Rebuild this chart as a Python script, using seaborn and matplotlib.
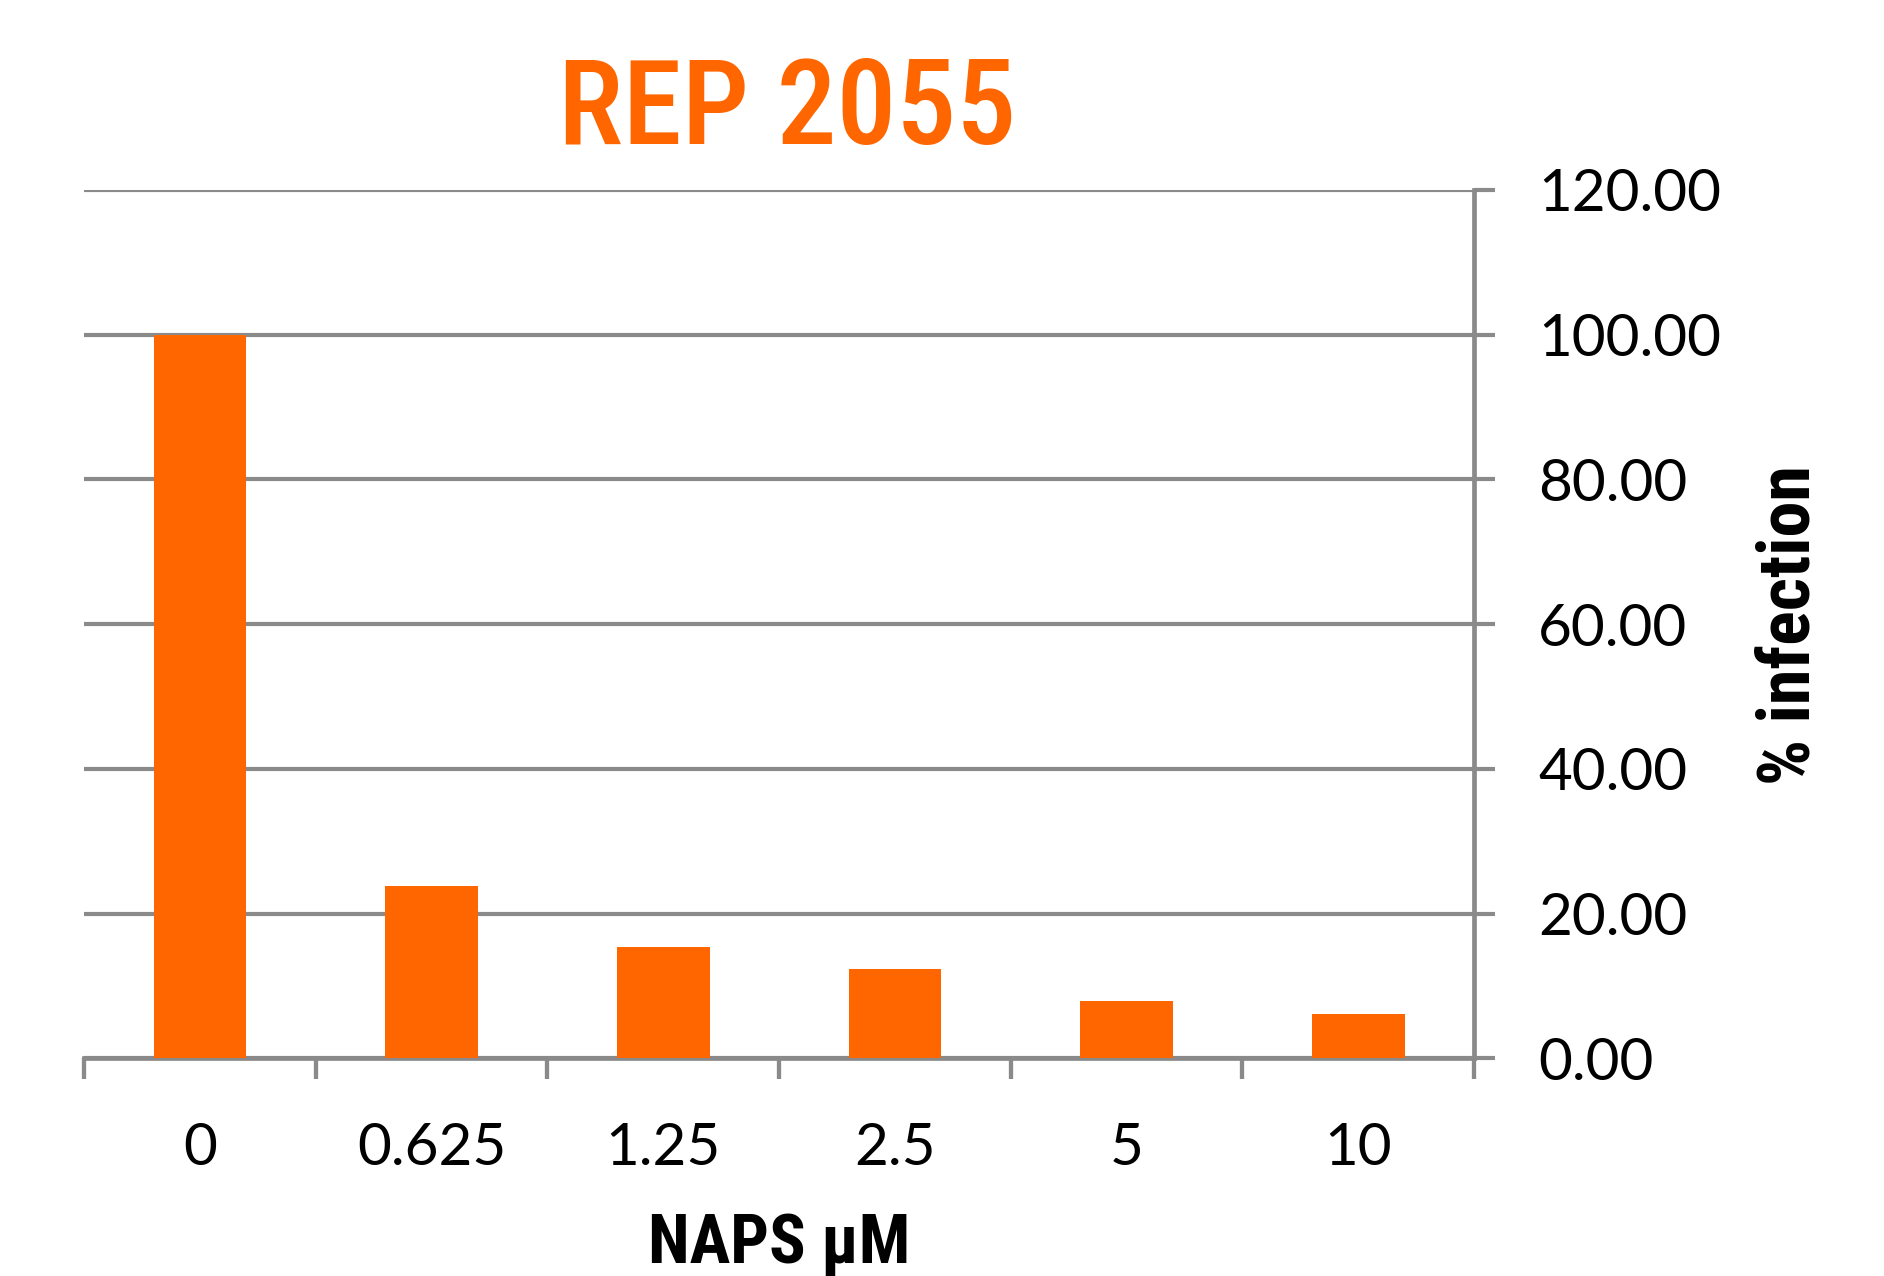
import matplotlib
matplotlib.use("Agg")
import matplotlib.pyplot as plt
import seaborn as sns
import pandas as pd
from matplotlib.ticker import FixedLocator, FormatStrFormatter

# NAPS concentration (µM) and resulting % infection
concentrations = ["0", "0.625", "1.25", "2.5", "5", "10"]
infection = [100.0, 23.8, 15.4, 12.4, 8.0, 6.2]
y_ticks = [0, 20, 40, 60, 80, 100, 120]

df = pd.DataFrame({"conc": concentrations, "infection": infection})

sns.set_theme(style="white")
plt.rcParams["font.family"] = ["Lato", "DejaVu Sans"]

ORANGE = "#FF6600"
GRAY = "#8a8a8a"

fig = plt.figure(figsize=(18.84, 12.76), dpi=100)
ax = fig.add_axes([0.0446, 0.1705, 0.7378, 0.6808])

sns.barplot(data=df, x="conc", y="infection", color=ORANGE, width=0.4,
            saturation=1, ax=ax, zorder=3, linewidth=0)

ax.set_xlim(-0.5, len(concentrations) - 0.5)
ax.set_ylim(0, 120)

# value axis on the right
ax.yaxis.tick_right()
ax.yaxis.set_major_locator(FixedLocator(y_ticks))
ax.yaxis.set_major_formatter(FormatStrFormatter("%.2f"))
ax.tick_params(axis="y", which="major", direction="out", length=15,
               width=3.0, color=GRAY, pad=31, labelsize=42, labelcolor="black",
               right=True, left=False)
ax.grid(axis="y", color=GRAY, linewidth=3.0, zorder=0)
ax.grid(axis="x", visible=False)
ax.set_axisbelow(True)

# category axis: ticks between categories, labels centred
ax.set_xticks(range(len(concentrations)))
ax.set_xticklabels(concentrations)
ax.xaxis.set_minor_locator(FixedLocator([i - 0.5 for i in range(len(concentrations) + 1)]))
ax.tick_params(axis="x", which="major", length=0, pad=46, labelsize=42,
               labelcolor="black")
ax.tick_params(axis="x", which="minor", length=15, width=3.1, color=GRAY,
               direction="out", bottom=True)

for side in ("top", "left"):
    ax.spines[side].set_visible(False)
for side in ("bottom", "right"):
    ax.spines[side].set_color(GRAY)
    ax.spines[side].set_linewidth(3.4)
ax.spines["right"].set_bounds(0, 120)

ax.set_xlabel("")
ax.set_ylabel("")

narrow = ["Roboto Condensed", "Liberation Sans Narrow", "Roboto", "DejaVu Sans"]
fig.text(0.4177, 0.887, "REP 2055", color=ORANGE, fontsize=86,
         family=narrow, fontweight="medium", ha="center", va="baseline")
fig.text(0.4135, 0.0245, "NAPS µM", color="black", fontsize=49,
         family=narrow, fontweight="bold", ha="center", va="center")
fig.text(0.950, 0.51, "% infection", color="black", fontsize=52,
         family=narrow, fontweight="bold", rotation=90,
         ha="center", va="center")

fig.savefig("out.png", dpi=100, facecolor="white")
